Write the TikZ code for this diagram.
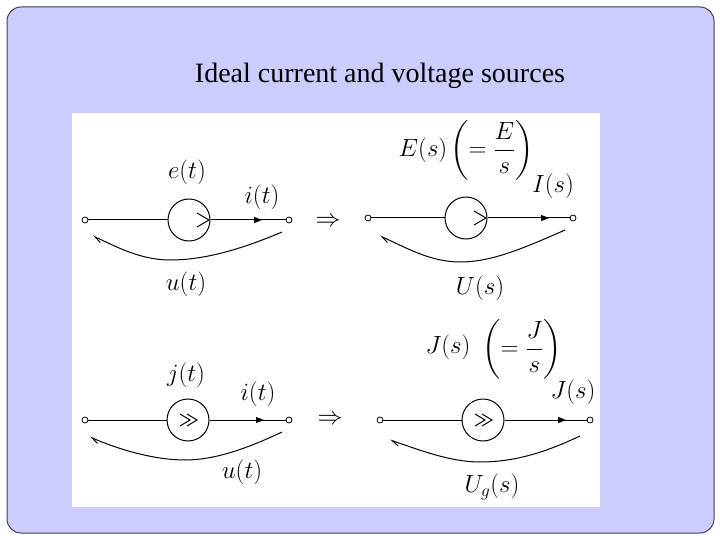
\documentclass[tikz,border=0pt]{standalone}
\usepackage{amsmath}
\usepackage{fontspec}
\setmainfont{Liberation Serif}
\usetikzlibrary{arrows.meta}
\begin{document}
\begin{tikzpicture}[x=1pt,y=-1pt,line width=1pt,
  term/.style={circle,draw,line width=0.8pt,fill=white,inner sep=0pt,minimum size=6pt},
  src/.style={circle,draw,inner sep=0pt,minimum size=42pt},
  wire/.style={},
  cur/.style={-{Triangle[length=8pt,width=6pt]}},
  volt/.style={-{Straight Barb[left,length=7pt,width=6pt]}},
  lbl/.style={font=\fontsize{23}{27}\selectfont,inner sep=1pt},
  arr/.style={font=\fontsize{24}{28}\selectfont}]
\useasboundingbox (0,0) rectangle (720,540);
\fill[white] (0,0) rectangle (720,540);
\draw[fill={rgb,255:red,204;green,204;blue,255},draw={rgb,255:red,60;green,60;blue,90},rounded corners=14pt] (7,7) rectangle (714,533);
\fill[white] (72,113) rectangle (600,507);
\node[font=\fontsize{28}{32}\selectfont] (title) at (380,76) {Ideal current and voltage sources};

% top left
\node[term] (a1) at (85,220) {}; \node[term] (b1) at (289,220) {};
\node[src] (s1) at (189,220) {};
\draw[wire] (a1) -- (s1.west); \draw[wire] (s1.east) -- (b1);
\draw[cur] (s1.east) -- (262,220);
\draw (197,213) -- (209,220) -- (197,227);
\coordinate (v1s) at (282,232); \coordinate (v1e) at (93,236);
\draw[volt] (v1s) .. controls (235,252) and (200,260) .. (170,260)
  .. controls (140,260) and (115,246) .. (v1e);
\node[lbl] (e1) at (187,172) {$e(t)$};
\node[lbl] (i1) at (262,197) {$i(t)$};
\node[lbl] (u1) at (186,284) {$u(t)$};
\node[arr] (r1) at (328,222) {$\Rightarrow$};

% top right
\node[term] (a2) at (368,218) {}; \node[term] (b2) at (573,218) {};
\node[src] (s2) at (466,218) {};
\draw[wire] (a2) -- (s2.west); \draw[wire] (s2.east) -- (b2);
\draw[cur] (s2.east) -- (549,218);
\draw (474,211) -- (486,218) -- (474,225);
\coordinate (v2s) at (565,230); \coordinate (v2e) at (380,236);
\draw[volt] (v2s) .. controls (520,250) and (490,262) .. (460,262)
  .. controls (430,262) and (405,247) .. (v2e);
\node[lbl] (E2) at (423,150) {$E(s)$};
\node[lbl] (F2) at (492,150) {$\left(=\dfrac{E}{s}\right)$};
\node[lbl] (I2) at (553,186) {$I(s)$};
\node[lbl] (U2) at (480,288) {$U(s)$};

% bottom left
\node[term] (a3) at (85,420) {}; \node[term] (b3) at (289,420) {};
\node[src] (s3) at (188,420) {};
\draw[wire] (a3) -- (s3.west); \draw[wire] (s3.east) -- (b3);
\draw[cur] (s3.east) -- (264,420);
\draw (180,414) -- (190,420) -- (180,426);
\draw (187,414) -- (197,420) -- (187,426);
\coordinate (v3s) at (282,432); \coordinate (v3e) at (90,437);
\draw[volt] (v3s) .. controls (240,452) and (210,460) .. (185,460)
  .. controls (155,460) and (120,450) .. (v3e);
\node[lbl] (j3) at (186,375) {$j(t)$};
\node[lbl] (i3) at (258,394) {$i(t)$};
\node[lbl] (u3) at (242,472) {$u(t)$};
\node[arr] (r2) at (330,420) {$\Rightarrow$};

% bottom right
\node[term] (a4) at (380,420) {}; \node[term] (b4) at (590,420) {};
\node[src] (s4) at (483,420) {};
\draw[wire] (a4) -- (s4.west); \draw[wire] (s4.east) -- (b4);
\draw[cur] (s4.east) -- (566,420);
\draw (475,414) -- (485,420) -- (475,426);
\draw (482,414) -- (492,420) -- (482,426);
\coordinate (v4s) at (580,436); \coordinate (v4e) at (390,440);
\draw[volt] (v4s) .. controls (540,455) and (510,462) .. (480,462)
  .. controls (450,462) and (420,450) .. (v4e);
\node[lbl] (J4) at (448,347) {$J(s)$};
\node[lbl] (F4) at (522,349) {$\left(=\dfrac{J}{s}\right)$};
\node[lbl] (J5) at (573,392) {$J(s)$};
\node[lbl] (U4) at (492,487) {$U_g(s)$};
\end{tikzpicture}
\end{document}
